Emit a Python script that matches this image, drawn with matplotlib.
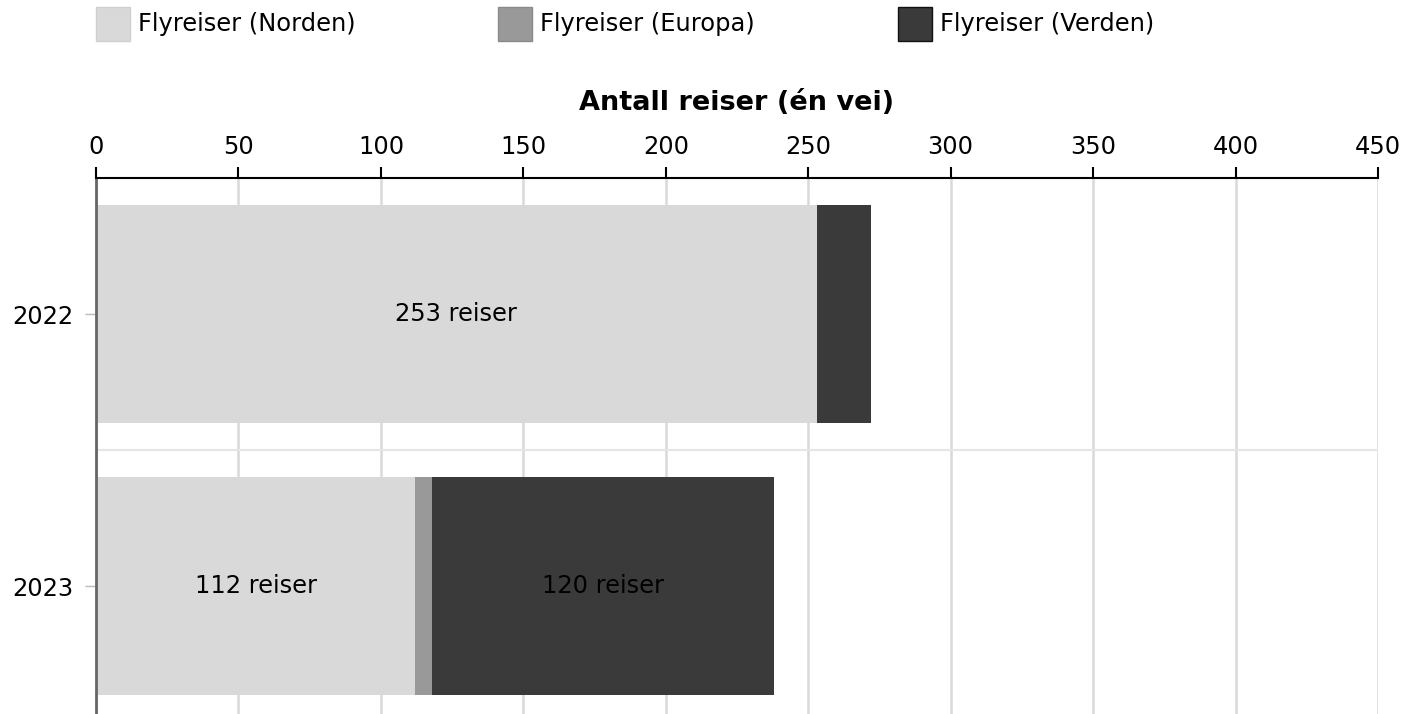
import matplotlib
matplotlib.use("Agg")
import matplotlib.pyplot as plt
import numpy as np

years = ["2022", "2023"]
series = ["Flyreiser (Norden)", "Flyreiser (Europa)", "Flyreiser (Verden)"]
norden = [253, 112]
europa = [0, 6]
verden = [19, 120]
colors = ["#d9d9d9", "#999999", "#3a3a3a"]
edges = ["#cfcfcf", "#8a8a8a", "#111111"]
xticks = [0, 50, 100, 150, 200, 250, 300, 350, 400, 450]
min_label = 60

plt.rcParams['font.family'] = ['DejaVu Sans']
W, H = 1417, 714
fig = plt.figure(figsize=(W / 100, H / 100), dpi=100)
left = 96 / W
right = 1378 / W
top = 1 - 178 / H
bottom = 1 - 722 / H
ax = fig.add_axes([left, bottom, right - left, top - bottom])

y = np.arange(len(years))
data = [norden, europa, verden]
lefts = np.zeros(len(years))
for vals, c in zip(data, colors):
    vals = np.array(vals, dtype=float)
    bars = ax.barh(y, vals, left=lefts, height=0.805, color=c, edgecolor='none', zorder=2)
    for b, v, l in zip(bars, vals, lefts):
        if v >= min_label:
            ax.text(l + v / 2, b.get_y() + b.get_height() / 2, f"{int(v)} reiser",
                    ha='center', va='center', fontsize=17.4, color='black', zorder=3)
    lefts = lefts + vals

ax.set_xlim(0, 450)
ax.set_ylim(1.5, -0.5)
ax.set_xticks(xticks)
ax.set_xticklabels([str(t) for t in xticks])
ax.xaxis.tick_top()
ax.xaxis.set_label_position('top')
ax.tick_params(axis='x', which='both', length=8, width=1.5, color='black', labelsize=17.4, pad=6)
ax.set_xlabel("Antall reiser (én vei)", fontsize=19.5, fontweight='bold', labelpad=18)
ax.set_yticks(y)
ax.set_yticklabels(years)
ax.tick_params(axis='y', length=8, width=1, color='#bbbbbb', labelsize=17.4, pad=8)
ax.set_yticks([0.5], minor=True)
ax.tick_params(axis='y', which='minor', length=0)
ax.grid(axis='x', color='#d9d9d9', linewidth=1.8, zorder=0)
ax.grid(axis='y', which='minor', color='#e6e6e6', linewidth=1.5, zorder=0)
ax.set_axisbelow(True)
for s in ['right', 'bottom']:
    ax.spines[s].set_visible(False)
ax.spines['top'].set_color('black')
ax.spines['top'].set_linewidth(1.5)
ax.spines['left'].set_color('#666666')
ax.spines['left'].set_linewidth(2)

xs = [96, 498, 898]
for c, e, lab, xp in zip(colors, edges, series, xs):
    fig.patches.append(plt.Rectangle((xp / W, 1 - 41 / H), 34 / W, 34 / H,
                                     transform=fig.transFigure, facecolor=c,
                                     edgecolor=e, linewidth=1))
    fig.text((xp + 42) / W, 1 - 24 / H, lab, fontsize=17.4, va='center', ha='left')

fig.savefig("out.png", dpi=100)
